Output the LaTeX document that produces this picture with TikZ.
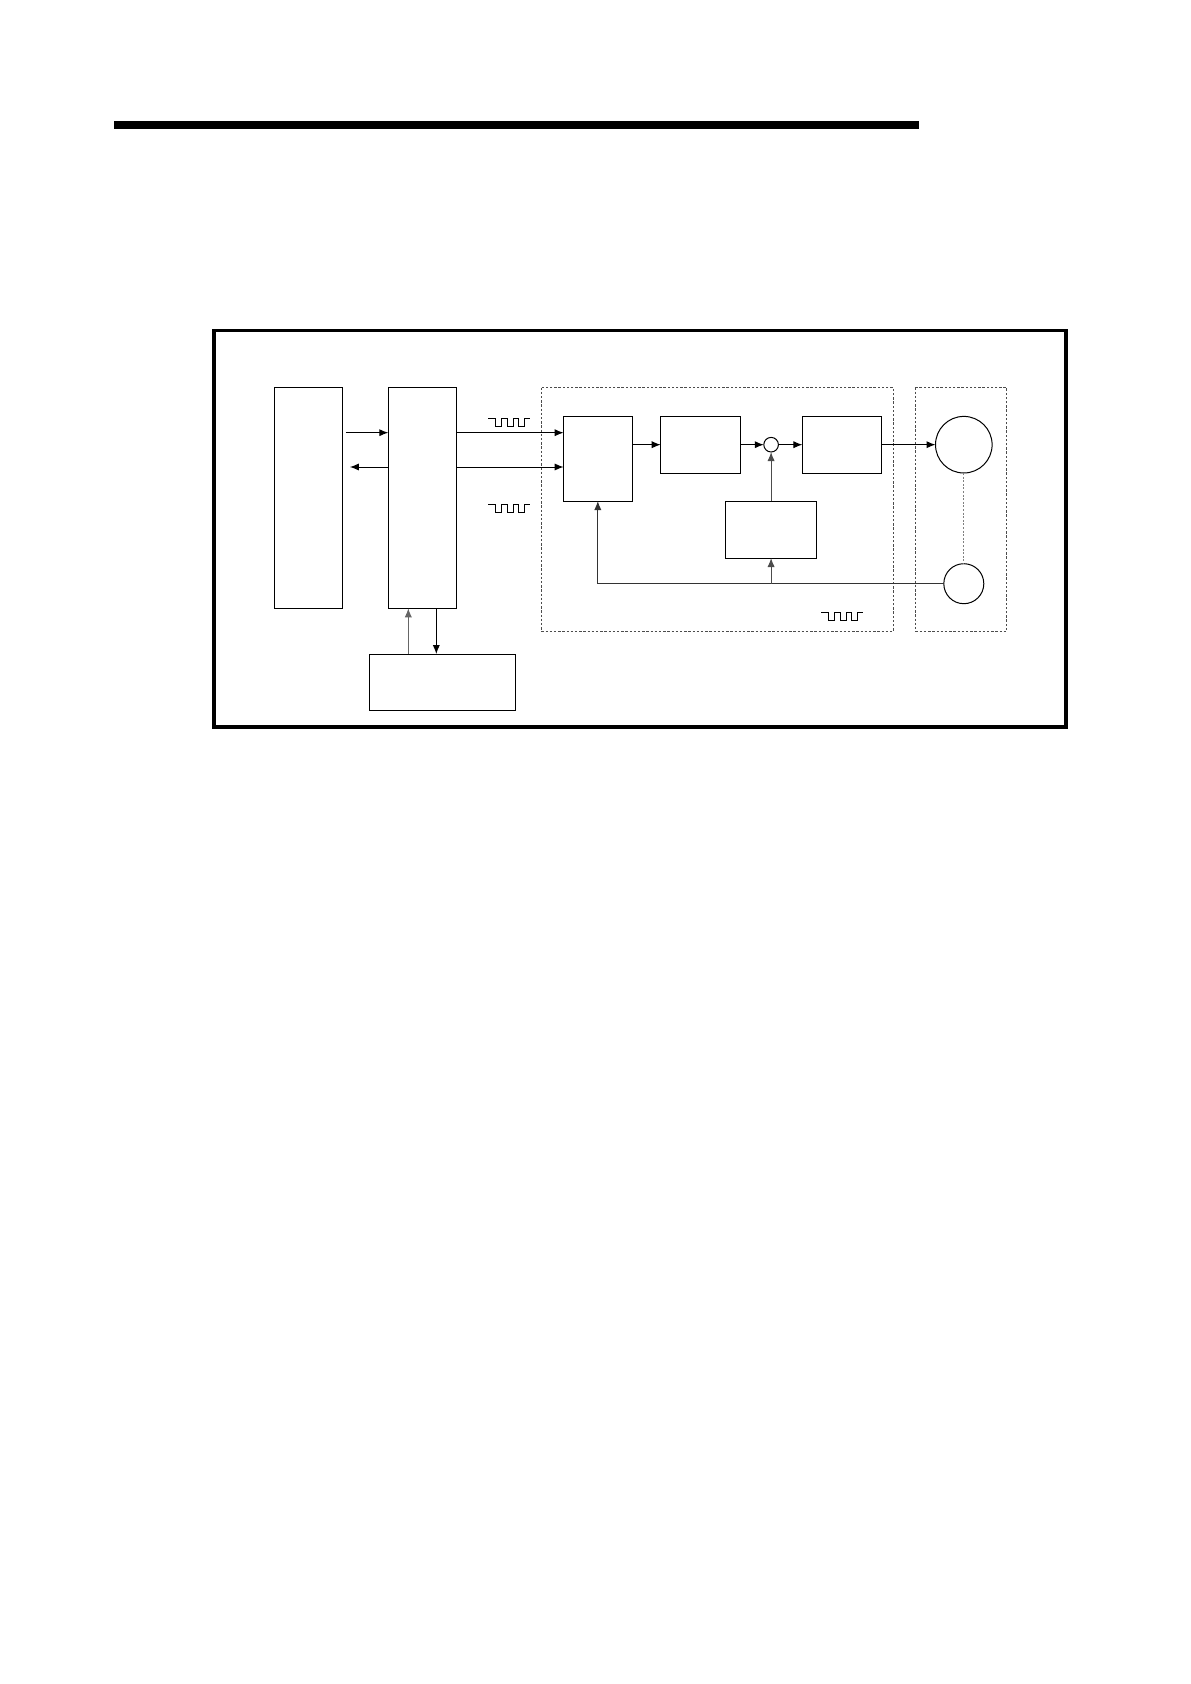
\documentclass[tikz,border=0pt]{standalone}
\usetikzlibrary{positioning,arrows.meta,calc}
\tikzstyle{block}=[rectangle, draw=black, line width=0.5pt, inner sep=0pt, outer sep=0pt]
\tikzstyle{junction}=[circle, draw=black, line width=0.5pt, inner sep=0pt, outer sep=0pt]
\tikzstyle{unit}=[draw=black!70, line width=0.5pt, dash pattern=on 1.2pt off 0.9pt]
\tikzstyle{signal}=[-{Latex[length=4.5pt,width=3.6pt]}, line width=0.5pt]
\tikzset{pulses/.pic={
    \draw[line width=0.5pt] (0,0) -- (7,0) -- (7,8) -- (13,8) -- (13,0) -- (19,0) -- (19,8)
        -- (25,8) -- (25,0) -- (30,0) -- (30,8) -- (36,8) -- (36,0) -- (42,0);
}}

\begin{document}
\begin{tikzpicture}[x=0.5pt, y=-0.5pt, node distance=2cm]
    \useasboundingbox (0,0) rectangle (1190,1684);

    % page rule and outer frame
    \fill[black] (114,121) rectangle (919,129);
    \draw[line width=1.75pt] (214,330.5) rectangle (1066,727);

    % drive unit and motor enclosures
    \draw[unit] (541.3,387.7) rectangle (893.3,631.3);
    \draw[unit] (915.7,387.5) rectangle (1006.7,631.3);

    \node (PLC) [block, minimum width=34pt, minimum height=110.3pt] at (308.7,498) {};
    \node (Positioner) [block, minimum width=34pt, minimum height=110.3pt, right=22.8pt of PLC] {};
    \node (Peripheral) [block, minimum width=73pt, minimum height=28pt, below=22.85pt of Positioner, xshift=10.2pt] {};

    \node (Deviation) [block, minimum width=34.2pt, minimum height=42.3pt] at (597.8,458.7) {};
    \node (Converter) [block, minimum width=39.7pt, minimum height=28.3pt, right=14.35pt of Deviation.north east, anchor=north west] {};
    \node (Sum) [junction, minimum size=7.3pt, right=11.85pt of Converter] {};
    \node (Amplifier) [block, minimum width=39.7pt, minimum height=28.3pt, right=12pt of Sum] {};
    \node (SpeedCalc) [block, minimum width=45.3pt, minimum height=28.3pt, below=24.7pt of Sum] {};

    \node (Motor) [junction, minimum size=28.3pt, right=26.85pt of Amplifier] {};
    \node (Encoder) [junction, minimum size=20pt, below=45.35pt of Motor] {};

    \coordinate (row1) at (0,432.7);
    \coordinate (row2) at (0,467);

    \draw[signal, shorten <=1.6pt] (PLC.east |- row1) -- (Positioner.west |- row1);
    \draw[signal, shorten >=3.6pt] (Positioner.west |- row2) -- (PLC.east |- row2);
    \draw[signal] (Positioner.east |- row1) -- (Deviation.west |- row1);
    \draw[signal] (Positioner.east |- row2) -- (Deviation.west |- row2);
    \draw[signal, draw=black!60] ([xshift=-7pt]Positioner.south |- Peripheral.north) -- ([xshift=-7pt]Positioner.south);
    \draw[signal] ([xshift=7pt]Positioner.south) -- ([xshift=7pt]Positioner.south |- Peripheral.north);

    \draw[signal] (Deviation.east |- Converter.west) -- (Converter.west);
    \draw[signal] (Converter.east) -- (Sum.west);
    \draw[signal] (Sum.east) -- (Amplifier.west);
    \draw[signal, draw=black!70] (SpeedCalc.north) -- (Sum.south);
    \draw[signal] (Amplifier.east) -- (Motor.west);

    \draw[signal, draw=black!80] (Encoder.west) -| (Deviation.south);
    \draw[signal, draw=black!70] (Encoder.west -| SpeedCalc.south) -- (SpeedCalc.south);
    \draw[draw=black!50, line width=0.5pt, dash pattern=on 1pt off 0.8pt] (Motor.south) -- (Encoder.north);

    % pulse trains
    \pic at (488,419) {pulses};
    \pic at (488,504) {pulses};
    \pic at (821,612) {pulses};

\end{tikzpicture}
\end{document}
